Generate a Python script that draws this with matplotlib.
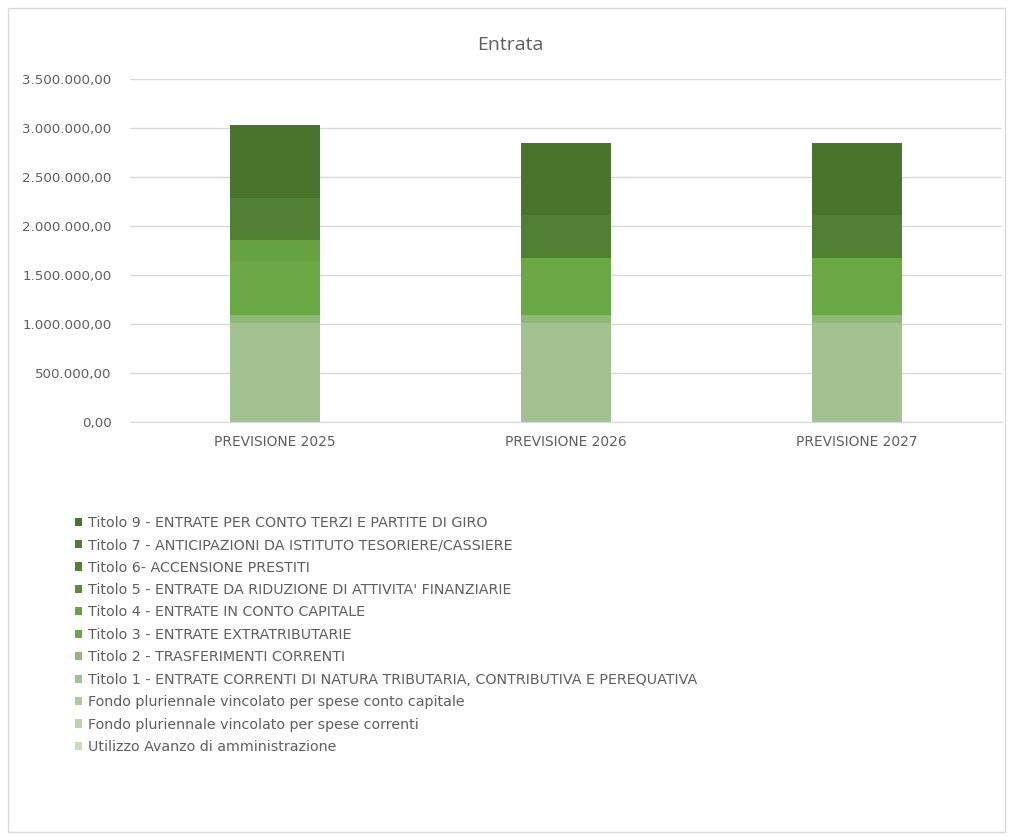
import matplotlib.pyplot as plt
from matplotlib.patches import Patch, Rectangle
from matplotlib.ticker import FuncFormatter

categories = ["PREVISIONE 2025", "PREVISIONE 2026", "PREVISIONE 2027"]

# series listed bottom-to-top as they are stacked
series_names = [
    "Utilizzo Avanzo di amministrazione",
    "Fondo pluriennale vincolato per spese correnti",
    "Fondo pluriennale vincolato per spese conto capitale",
    "Titolo 1 - ENTRATE CORRENTI DI NATURA TRIBUTARIA, CONTRIBUTIVA E PEREQUATIVA",
    "Titolo 2 - TRASFERIMENTI CORRENTI",
    "Titolo 3 - ENTRATE EXTRATRIBUTARIE",
    "Titolo 4 - ENTRATE IN CONTO CAPITALE",
    "Titolo 5 - ENTRATE DA RIDUZIONE DI ATTIVITA' FINANZIARIE",
    "Titolo 6- ACCENSIONE PRESTITI",
    "Titolo 7 - ANTICIPAZIONI DA ISTITUTO TESORIERE/CASSIERE",
    "Titolo 9 - ENTRATE PER CONTO TERZI E PARTITE DI GIRO",
]

utilizzo_avanzo = [0, 0, 0]
fpv_correnti = [0, 0, 0]
fpv_capitale = [0, 0, 0]
titolo_1 = [1015000, 1015000, 1015000]
titolo_2 = [77000, 77000, 77000]
titolo_3 = [555000, 578000, 578000]
titolo_4 = [210000, 5000, 5000]
titolo_5 = [0, 0, 0]
titolo_6 = [0, 0, 0]
titolo_7 = [430000, 437000, 437000]
titolo_9 = [745000, 740000, 740000]

series_values = [utilizzo_avanzo, fpv_correnti, fpv_capitale, titolo_1, titolo_2,
                 titolo_3, titolo_4, titolo_5, titolo_6, titolo_7, titolo_9]

colors = ["#C8DCBE", "#B9D3AC", "#AECB9F", "#A3C292", "#8DB87A", "#6AA845",
          "#66A142", "#5A8C3A", "#538235", "#517F33", "#4A742C"]

text_color = "#5F5F5F"
plt.rcParams["font.family"] = ["DejaVu Sans"]

fig = plt.figure(figsize=(10.12, 8.36), dpi=100)
ax = fig.add_axes([0.128, 0.4952, 0.8626, 0.4103])

x = range(len(categories))
bottoms = [0.0] * len(categories)
for vals, color in zip(series_values, colors):
    ax.bar(x, vals, width=0.31, bottom=bottoms, color=color, linewidth=0)
    bottoms = [b + v for b, v in zip(bottoms, vals)]

def it_format(v, _pos):
    s = f"{v:,.2f}"
    return s.replace(",", "X").replace(".", ",").replace("X", ".")

ax.set_ylim(0, 3500000)
ax.set_xlim(-0.5, len(categories) - 0.5)
ax.yaxis.set_major_locator(plt.MultipleLocator(500000))
ax.yaxis.set_major_formatter(FuncFormatter(it_format))
ax.set_xticks(list(x))
ax.set_xticklabels(categories)
ax.tick_params(axis="both", length=0, colors=text_color)
ax.tick_params(axis="y", pad=13, labelsize=9.6)
ax.tick_params(axis="x", pad=9, labelsize=9.9)
ax.grid(axis="y", color="#D9D9D9", linewidth=1)
ax.set_axisbelow(True)
for side in ("top", "right", "left"):
    ax.spines[side].set_visible(False)
ax.spines["bottom"].set_color("#D9D9D9")

fig.text(0.504, 0.946, "Entrata", ha="center", va="center", fontsize=14,
         color=text_color, family="Open Sans")

handles = [Patch(facecolor=c, edgecolor="none") for c in colors][::-1]
fig.legend(handles, series_names[::-1], loc="upper left", bbox_to_anchor=(0.068, 0.390),
           frameon=False, fontsize=10.3, labelcolor=text_color, handlelength=0.5,
           handleheight=0.5, handletextpad=0.45, labelspacing=0.59, borderaxespad=0)

fig.patches.append(Rectangle((0.008, 0.005), 0.985, 0.986, transform=fig.transFigure,
                             fill=False, edgecolor="#D9D9D9", linewidth=1))

fig.savefig("out.png", dpi=100)
